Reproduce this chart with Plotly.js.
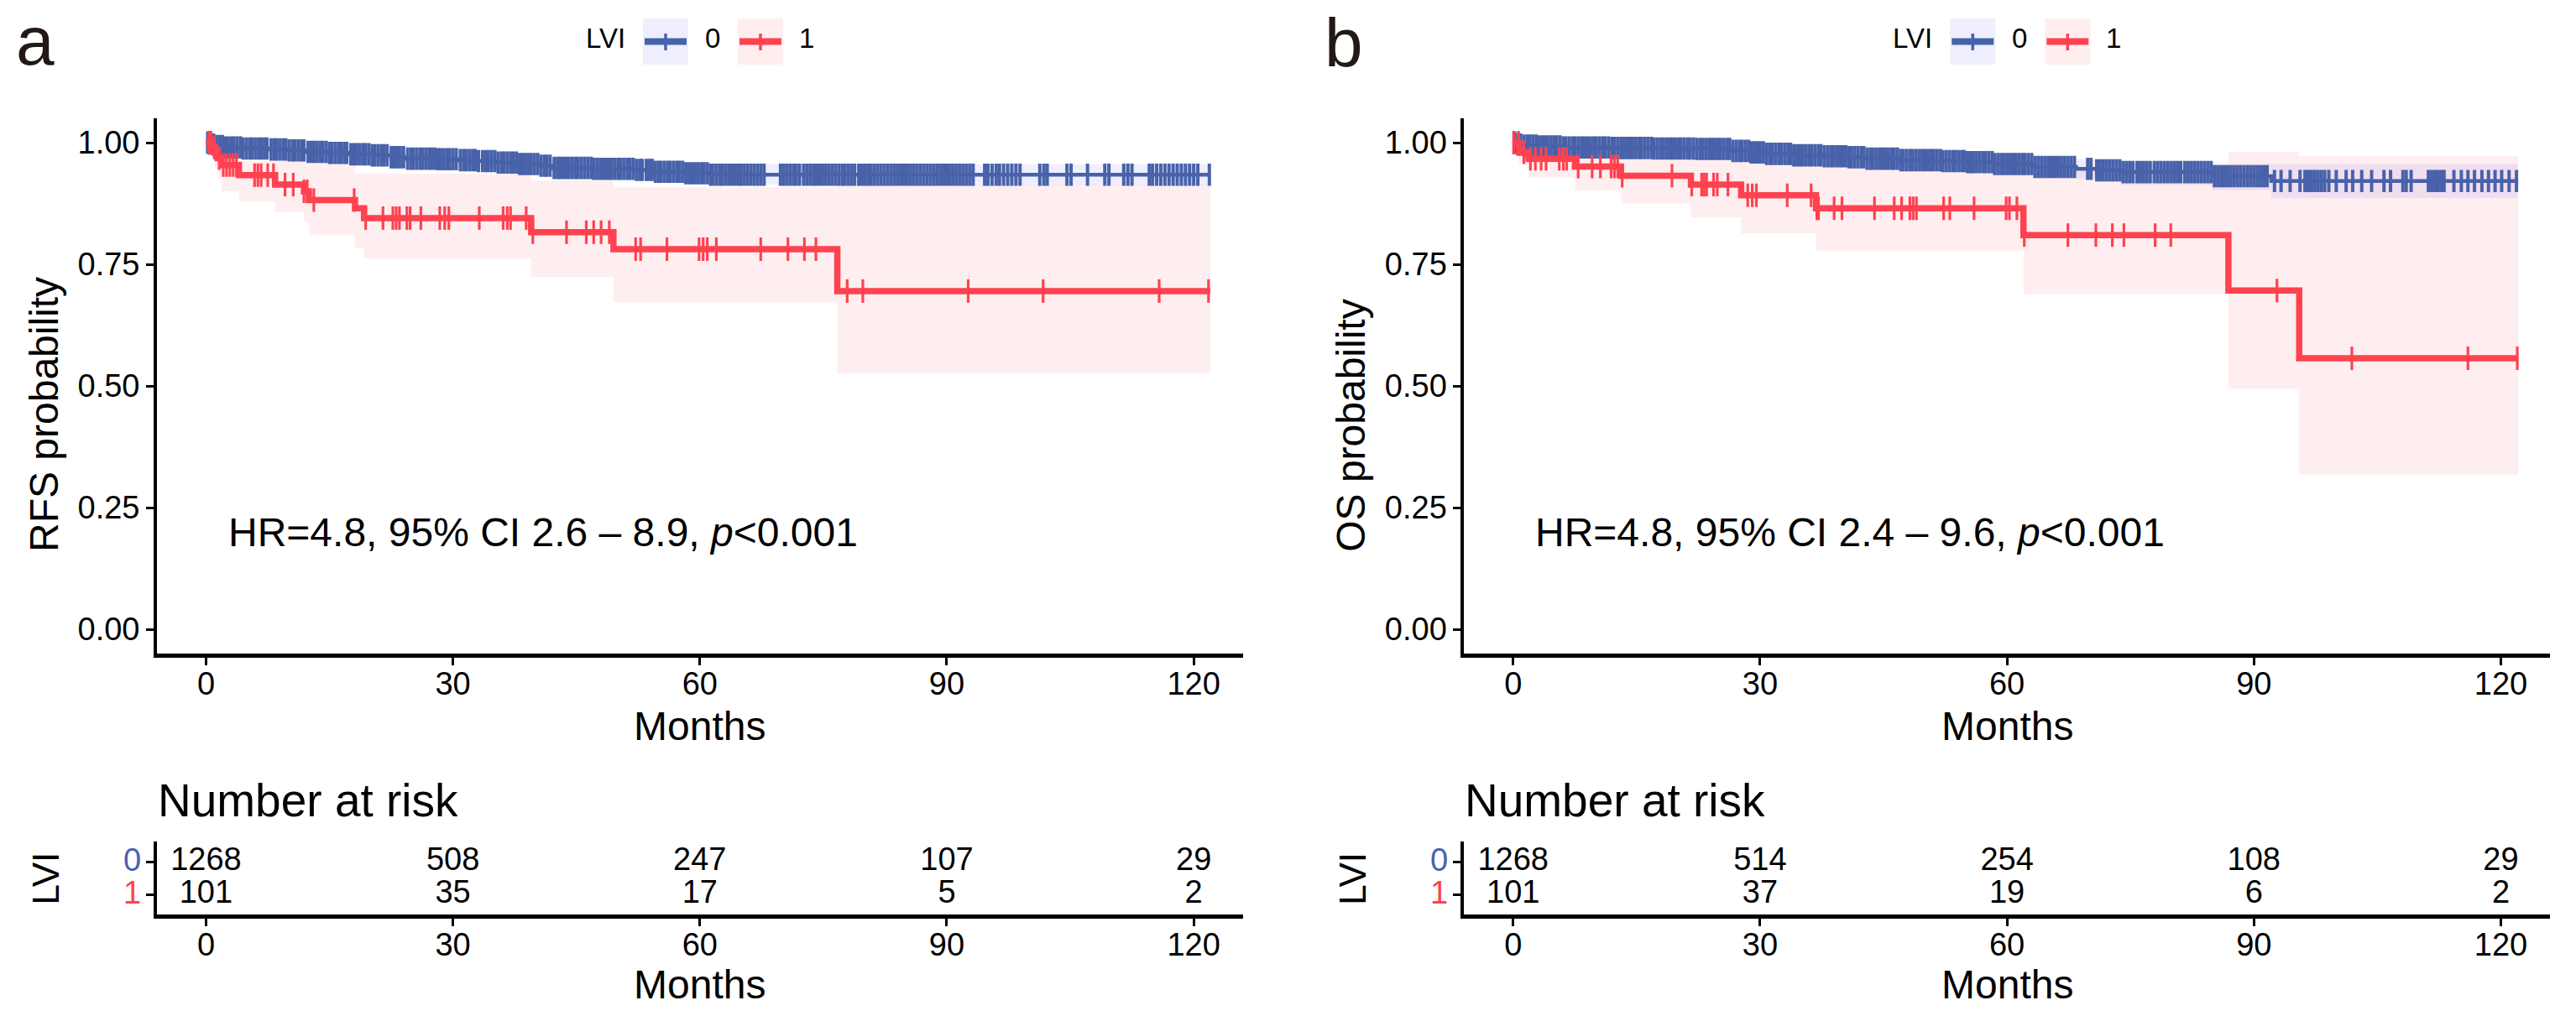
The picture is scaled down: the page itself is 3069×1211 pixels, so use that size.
<!DOCTYPE html>
<html><head><meta charset="utf-8">
<script src="https://cdn.plot.ly/plotly-3.0.1.min.js"></script>
<style>html,body{margin:0;padding:0;background:#fff;}#chart{width:3069px;height:1211px;}</style>
</head><body><div id="chart"></div>
<script>
// ---------------- DATA ----------------
const tickMonths = [0, 30, 60, 90, 120];
const probTicks = [0, 0.25, 0.5, 0.75, 1];
const probTickText = ['0.00', '0.25', '0.50', '0.75', '1.00'];
const groups = ['0', '1'];

// Panel a (RFS)
const redA_t  = [0, 0.8, 1.1, 1.4, 1.9, 4.0, 8.4, 11.9, 12.5, 18.1, 19.2, 39.5, 49.5, 76.7];
const redA_s  = [1.0, 0.99, 0.98, 0.968, 0.954, 0.933, 0.914, 0.90, 0.882, 0.865, 0.845, 0.816, 0.781, 0.695];
const redA_lo = [1.0, 0.965, 0.945, 0.925, 0.90, 0.879, 0.857, 0.835, 0.81, 0.784, 0.761, 0.724, 0.672, 0.525];
const redA_hi = [1.0, 1.0, 1.0, 0.995, 0.985, 0.962, 0.962, 0.962, 0.962, 0.936, 0.936, 0.922, 0.908, 0.914];
const redA_end = 122.0;
const redA_cens = [0.3, 0.6, 1.0, 1.6, 2.1, 2.5, 2.9, 3.3, 3.7, 5.9, 6.3, 6.7, 7.5, 8.2, 9.6, 10.6, 11.9, 12.3, 13.1, 18.0, 19.4, 21.5, 22.7, 23.1, 23.5, 24.4, 24.8, 26.1, 28.4, 29.0, 29.5, 33.2, 36.1, 36.6, 37.0, 38.9, 39.7, 43.8, 46.2, 47.1, 48.0, 49.0, 52.2, 52.8, 56.0, 59.9, 60.4, 60.9, 62.0, 67.4, 70.7, 72.7, 74.1, 77.9, 79.8, 92.6, 101.7, 115.8, 121.8];

const blueA_t  = [0, 0.3, 0.7, 1.2, 2.1, 4.5, 7.5, 10.0, 12.3, 15.0, 17.3, 20.0, 22.5, 24.4, 28.0, 30.8, 33.0, 35.2, 38.0, 40.6, 42.2, 47.0, 52.2, 54.3, 58.0, 61.0];
const blueA_s  = [1.0, 0.998, 0.996, 0.993, 0.990, 0.988, 0.986, 0.984, 0.981, 0.979, 0.976, 0.974, 0.970, 0.967, 0.966, 0.964, 0.962, 0.959, 0.956, 0.9525, 0.948, 0.946, 0.944, 0.940, 0.937, 0.934];
const blueA_lo = [1.0, 0.995, 0.992, 0.988, 0.984, 0.981, 0.978, 0.976, 0.972, 0.970, 0.966, 0.963, 0.959, 0.956, 0.954, 0.952, 0.949, 0.946, 0.942, 0.938, 0.933, 0.930, 0.927, 0.923, 0.919, 0.913];
const blueA_hi = [1.0, 1.0, 0.999, 0.997, 0.995, 0.994, 0.993, 0.991, 0.989, 0.988, 0.985, 0.984, 0.981, 0.979, 0.978, 0.976, 0.975, 0.972, 0.970, 0.967, 0.963, 0.962, 0.961, 0.958, 0.956, 0.955];
const blueA_end = 122.0;
const blueA_cens = [0.2,0.5,0.9,1.2,1.6,2.0,2.3,2.7,3.1,3.4,3.8,4.2,4.5,4.9,5.3,5.6,6.0,6.4,6.7,7.1,7.4,7.9,8.3,8.6,9.0,9.4,9.7,10.1,10.5,10.8,11.2,11.6,11.9,12.4,12.8,13.1,13.5,13.9,14.2,14.6,15.0,15.3,15.7,16.1,16.4,16.8,17.1,17.6,18.0,18.3,18.7,19.1,19.4,19.8,20.2,20.5,20.9,21.3,21.6,22.0,22.5,22.9,23.2,23.6,24.0,24.5,24.9,25.2,25.6,26.0,26.3,26.7,27.1,27.4,27.8,28.2,28.5,28.9,29.3,29.6,30.0,30.4,30.9,31.3,31.6,32.0,32.4,32.7,33.1,33.6,34.0,34.3,34.7,35.1,35.5,35.9,36.2,36.6,37.0,37.3,37.7,38.1,38.4,38.8,39.2,39.5,39.9,40.3,40.7,41.1,41.4,41.8,42.3,42.7,43.0,43.4,43.8,44.1,44.5,44.9,45.2,45.6,46.0,46.4,46.8,47.1,47.5,47.9,48.2,48.6,49.0,49.3,49.7,50.1,50.4,50.8,51.2,51.5,51.9,52.3,52.7,53.0,53.5,53.9,54.2,54.6,55.0,55.3,55.7,56.1,56.4,56.8,57.2,57.5,57.9,58.3,58.7,59.1,59.4,59.8,60.2,60.5,60.9,61.3,61.6,62.0,62.4,62.7,63.1,63.5,63.9,64.3,64.7,65.0,65.4,65.8,66.2,66.6,67.0,67.4,67.8,69.8,70.2,70.6,71.0,71.4,71.7,72.1,72.6,73.0,73.4,73.8,74.1,74.5,74.9,75.3,75.7,76.1,76.5,76.9,77.3,77.6,78.0,78.4,78.8,79.3,79.7,80.1,80.5,80.8,81.2,81.6,82.0,82.4,82.8,83.2,83.6,84.0,84.4,84.8,85.2,85.6,86.0,86.4,86.8,87.2,87.6,88.0,88.4,88.8,89.2,89.6,90.0,90.4,90.8,91.2,91.6,92.0,92.4,92.8,93.2,94.6,95.0,95.5,96.0,96.4,96.9,97.4,97.9,98.4,98.9,101.3,101.8,102.2,104.6,105.1,107.1,109.2,109.7,111.5,112.0,112.5,114.6,115.0,115.5,116.0,116.5,117.0,117.5,118.0,118.5,119.0,119.5,120.0,120.5,121.9];

// Panel b (OS)
const redB_t  = [0, 0.7, 1.9, 7.5, 13.1, 21.6, 27.7, 36.8, 62.0, 86.9, 95.5];
const redB_s  = [1.0, 0.980, 0.967, 0.951, 0.932, 0.914, 0.892, 0.865, 0.810, 0.696, 0.557];
const redB_lo = [1.0, 0.955, 0.928, 0.902, 0.875, 0.846, 0.814, 0.778, 0.689, 0.494, 0.318];
const redB_hi = [1.0, 1.0, 0.995, 0.99, 0.985, 0.975, 0.965, 0.952, 0.945, 0.981, 0.972];
const redB_end = 122.1;
const redB_cens = [0.05, 0.65, 1.3, 2.1, 2.7, 3.4, 4.0, 5.6, 6.1, 6.5, 7.9, 9.6, 10.6, 11.9, 12.3, 12.7, 13.25, 19.3, 21.7, 22.9, 23.2, 23.5, 24.35, 24.8, 26.1, 28.5, 29.05, 29.55, 33.3, 36.2, 36.9, 37.1, 39.0, 39.95, 43.9, 46.3, 47.2, 48.2, 48.6, 49.0, 52.3, 53.05, 56.0, 59.9, 60.3, 61.2, 62.1, 67.4, 70.8, 72.8, 74.2, 78.0, 79.9, 92.8, 101.9, 116.0, 122.0];

const blueB_t  = [0, 0.3, 0.6, 1.0, 3.0, 5.9, 12.0, 17.1, 22.3, 26.6, 28.7, 30.8, 34.1, 37.5, 40.8, 42.9, 47.0, 52.0, 55.0, 58.3, 63.2, 68.4, 70.9, 73.8, 85.0, 92.1];
const blueB_s  = [1.0, 0.998, 0.996, 0.994, 0.992, 0.990, 0.989, 0.988, 0.987, 0.983, 0.980, 0.977, 0.974, 0.972, 0.970, 0.967, 0.964, 0.962, 0.960, 0.956, 0.950, 0.946, 0.943, 0.9395, 0.931, 0.921];
const blueB_lo = [1.0, 0.995, 0.992, 0.989, 0.986, 0.984, 0.982, 0.980, 0.978, 0.974, 0.970, 0.966, 0.963, 0.960, 0.957, 0.954, 0.950, 0.947, 0.944, 0.939, 0.932, 0.925, 0.919, 0.9125, 0.902, 0.886];
const blueB_hi = [1.0, 1.0, 0.999, 0.998, 0.997, 0.996, 0.995, 0.995, 0.994, 0.991, 0.989, 0.987, 0.985, 0.983, 0.982, 0.980, 0.978, 0.976, 0.975, 0.972, 0.967, 0.966, 0.9615, 0.957, 0.957, 0.957];
const blueB_end = 122.0;
const blueB_cens = [0.2,0.6,0.9,1.3,1.7,2.0,2.4,2.8,3.1,3.5,3.9,4.2,4.6,5.0,5.3,5.7,6.1,6.4,6.8,7.2,7.5,7.9,8.3,8.6,9.0,9.4,9.8,10.1,10.5,10.9,11.2,11.6,12.0,12.3,12.7,13.1,13.4,13.8,14.2,14.5,14.9,15.3,15.6,16.0,16.4,16.8,17.1,17.5,17.9,18.2,18.6,19.0,19.3,19.7,20.1,20.4,20.8,21.2,21.5,21.9,22.3,22.7,23.0,23.4,23.8,24.1,24.5,24.9,25.2,25.6,26.0,26.3,26.7,27.1,27.5,27.8,28.2,28.6,28.9,29.3,29.7,30.0,30.4,30.8,31.2,31.5,31.9,32.3,32.6,33.0,33.4,33.7,34.1,34.5,34.9,35.2,35.6,36.0,36.3,36.7,37.1,37.4,37.8,38.2,38.6,38.9,39.3,39.7,40.0,40.4,40.8,41.1,41.5,41.9,42.3,42.6,43.0,43.4,43.7,44.1,44.5,44.8,45.2,45.6,46.0,46.3,46.7,47.1,47.4,47.8,48.2,48.5,48.9,49.3,49.7,50.0,50.4,50.8,51.1,51.5,51.9,52.2,52.6,53.0,53.4,53.7,54.1,54.5,54.8,55.2,55.6,55.9,56.3,56.7,57.1,57.4,57.8,58.2,58.5,58.9,59.3,59.6,60.0,60.4,60.8,61.1,61.5,61.9,62.2,62.6,63.0,63.4,63.8,64.2,64.6,65.0,65.4,65.8,66.2,66.6,67.0,67.4,67.8,68.2,69.8,70.2,70.9,71.3,71.7,72.1,72.5,72.9,73.3,73.7,74.1,74.5,74.9,75.3,75.8,76.2,76.6,77.0,77.4,77.9,78.3,78.7,79.1,79.5,79.9,80.3,80.7,81.1,81.6,82.0,82.4,82.8,83.2,83.6,84.0,84.4,84.8,85.2,85.6,86.0,86.4,86.8,87.2,87.6,88.0,88.4,88.8,89.2,89.6,90.0,90.4,90.8,91.2,91.6,92.5,93.3,94.4,95.6,96.2,96.6,97.0,97.4,97.8,98.2,98.6,99.1,100.0,101.2,102.0,103.1,104.3,105.8,106.6,108.1,108.5,109.1,111.2,111.6,112.0,112.4,112.8,113.1,114.3,115.2,116.0,116.8,117.7,118.5,119.3,120.1,121.0,121.9];

// Number at risk
const riskTimes = [0, 30, 60, 90, 120];
const riskA0 = [1268, 508, 247, 107, 29];
const riskA1 = [101, 35, 17, 5, 2];
const riskB0 = [1268, 514, 254, 108, 29];
const riskB1 = [101, 37, 19, 6, 2];

const hrTextA = 'HR=4.8, 95% CI 2.6 \u2013 8.9, <i>p</i>&lt;0.001';
const hrTextB = 'HR=4.8, 95% CI 2.4 \u2013 9.6, <i>p</i>&lt;0.001';

// ---------------- STYLE / LAYOUT ----------------
const W = 3069, H = 1211;
const FONT = '"Liberation Sans", Arial, Helvetica, sans-serif';
const BLUE = '#4862AA', RED = '#FF4250';
const BLUE_FILL = 'rgba(95,95,255,0.105)', RED_FILL = 'rgba(255,66,80,0.09)';
const px = x => x / W;
const py = y => 1 - y / H;
const OFF = 1557.3; // horizontal offset of panel b

function stepLine(t, s, end) {
  return { x: t.concat([end]), y: s.concat([s[s.length - 1]]) };
}
function ribbon(t, lo, hi, end) {
  const x = [], y = [];
  for (let i = 0; i < t.length; i++) { const tn = i < t.length - 1 ? t[i + 1] : end; x.push(t[i], tn); y.push(hi[i], hi[i]); }
  for (let i = t.length - 1; i >= 0; i--) { const tn = i < t.length - 1 ? t[i + 1] : end; x.push(tn, t[i]); y.push(lo[i], lo[i]); }
  return { x, y };
}
function survAt(t, s, time) { let v = s[0]; for (let i = 0; i < t.length; i++) if (t[i] <= time) v = s[i]; return v; }

function panelTraces(xa, ya, red, blue) {
  const tr = [];
  const bR = ribbon(blue.t, blue.lo, blue.hi, blue.end);
  tr.push({ type: 'scatter', mode: 'lines', x: bR.x, y: bR.y, fill: 'toself', fillcolor: BLUE_FILL, line: { width: 0 }, xaxis: xa, yaxis: ya, hoverinfo: 'skip', showlegend: false });
  const rR = ribbon(red.t, red.lo, red.hi, red.end);
  tr.push({ type: 'scatter', mode: 'lines', x: rR.x, y: rR.y, fill: 'toself', fillcolor: RED_FILL, line: { width: 0 }, xaxis: xa, yaxis: ya, hoverinfo: 'skip', showlegend: false });
  const bL = stepLine(blue.t, blue.s, blue.end);
  tr.push({ type: 'scatter', mode: 'lines', x: bL.x, y: bL.y, line: { shape: 'hv', color: BLUE, width: 4.5 }, xaxis: xa, yaxis: ya, showlegend: false });
  tr.push({ type: 'scatter', mode: 'markers', x: blue.cens, y: blue.cens.map(c => survAt(blue.t, blue.s, c)), marker: { symbol: 'line-ns', size: 19, color: BLUE, line: { color: BLUE, width: 4 } }, xaxis: xa, yaxis: ya, showlegend: false });
  const rL = stepLine(red.t, red.s, red.end);
  tr.push({ type: 'scatter', mode: 'lines', x: rL.x, y: rL.y, line: { shape: 'hv', color: RED, width: 7.5 }, xaxis: xa, yaxis: ya, showlegend: false });
  tr.push({ type: 'scatter', mode: 'markers', x: red.cens, y: red.cens.map(c => survAt(red.t, red.s, c)), marker: { symbol: 'line-ns', size: 20, color: RED, line: { color: RED, width: 3.2 } }, xaxis: xa, yaxis: ya, showlegend: false });
  return tr;
}
function riskTraces(xa, ya, r0, r1) {
  const f = { family: FONT, size: 38, color: '#000' };
  return [
    { type: 'scatter', mode: 'text', x: riskTimes, y: riskTimes.map(() => 2), text: r0.map(String), textposition: 'middle center', textfont: f, cliponaxis: false, xaxis: xa, yaxis: ya, showlegend: false, hoverinfo: 'skip' },
    { type: 'scatter', mode: 'text', x: riskTimes, y: riskTimes.map(() => 1), text: r1.map(String), textposition: 'middle center', textfont: f, cliponaxis: false, xaxis: xa, yaxis: ya, showlegend: false, hoverinfo: 'skip' }
  ];
}

const data = [].concat(
  panelTraces('x', 'y', { t: redA_t, s: redA_s, lo: redA_lo, hi: redA_hi, end: redA_end, cens: redA_cens },
                        { t: blueA_t, s: blueA_s, lo: blueA_lo, hi: blueA_hi, end: blueA_end, cens: blueA_cens }),
  panelTraces('x2', 'y2', { t: redB_t, s: redB_s, lo: redB_lo, hi: redB_hi, end: redB_end, cens: redB_cens },
                          { t: blueB_t, s: blueB_s, lo: blueB_lo, hi: blueB_hi, end: blueB_end, cens: blueB_cens }),
  riskTraces('x3', 'y3', riskA0, riskA1),
  riskTraces('x4', 'y4', riskB0, riskB1)
);

const tickFont = { family: FONT, size: 38, color: '#000' };
function xAxis(domL, domR, anchor) {
  return { domain: [px(domL), px(domR)], anchor: anchor, range: [-6, 126], tickvals: tickMonths, ticktext: tickMonths.map(String),
    ticks: 'outside', ticklen: 9, tickwidth: 3, tickcolor: '#000', showline: true, linewidth: 4.5, linecolor: '#000',
    ticklabelstandoff: -10,
    showgrid: false, zeroline: false, tickfont: tickFont, fixedrange: true };
}
function yMain(anchor) {
  return { domain: [py(779), py(141)], anchor: anchor, range: [-0.05, 1.05], tickvals: probTicks, ticktext: probTickText,
    ticks: 'outside', ticklen: 9, tickwidth: 3, tickcolor: '#000', showline: true, linewidth: 3.5, linecolor: '#000',
    showgrid: false, zeroline: false, tickfont: tickFont, fixedrange: true };
}
function yRisk(anchor) {
  return { domain: [py(1090), py(1003)], anchor: anchor, range: [0.41, 2.64], tickvals: [1, 2], showticklabels: false,
    ticks: 'outside', ticklen: 9, tickwidth: 3, tickcolor: '#000', showline: true, linewidth: 3.5, linecolor: '#000',
    showgrid: false, zeroline: false, fixedrange: true };
}

const ann = [];
const shapes = [];
function txt(text, x, y, size, opts) {
  ann.push(Object.assign({ text: text, x: px(x), y: py(y), xref: 'paper', yref: 'paper', showarrow: false,
    xanchor: 'center', yanchor: 'middle', font: { family: FONT, size: size, color: '#000' } }, opts || {}));
}
[0, OFF].forEach((o, k) => {
  // legend
  txt('LVI', 721.5 + o, 45, 33);
  txt(groups[0], 849 + o, 45, 33);
  txt(groups[1], 961 + o, 45, 33);
  [[766, BLUE, '#EEEEFD'], [879, RED, '#FFEEEE']].forEach(([x0, c, bg]) => {
    shapes.push({ type: 'rect', xref: 'paper', yref: 'paper', x0: px(x0 + o), x1: px(x0 + 54 + o), y0: py(77), y1: py(22), fillcolor: bg, line: { width: 0 } });
    shapes.push({ type: 'line', xref: 'paper', yref: 'paper', x0: px(x0 + 2 + o), x1: px(x0 + 52 + o), y0: py(49.5), y1: py(49.5), line: { color: c, width: 8 } });
    shapes.push({ type: 'line', xref: 'paper', yref: 'paper', x0: px(x0 + 27 + o), x1: px(x0 + 27 + o), y0: py(40), y1: py(60), line: { color: c, width: 3.5 } });
  });
  // y axis title
  txt(k === 0 ? 'RFS probability' : 'OS probability', 52 + o, 660, 48, { textangle: -90, yanchor: 'bottom' });
  // x axis titles
  txt('Months', 833.8 + o, 865, 48);
  txt('Months', 833.8 + o, 1173, 48);
  // risk table
  txt('Number at risk', 186 + o, 954, 55, { xanchor: 'left' });
  txt('LVI', 54 + o, 1047.5, 44, { textangle: -90 });
  txt(groups[0], 157 + o, 1025, 38, { font: { family: FONT, size: 38, color: BLUE } });
  txt(groups[1], 157 + o, 1064, 38, { font: { family: FONT, size: 38, color: RED } });
});
// panel letters
txt('a', 42, 48, 82, { font: { family: FONT, size: 82, color: '#231815' } });
txt('b', 1601, 51, 82, { font: { family: FONT, size: 82, color: '#231815' } });
// HR annotations
ann.push({ text: hrTextA, x: 2.5, y: 0.2, xref: 'x', yref: 'y', xanchor: 'left', yanchor: 'middle', showarrow: false, font: { family: FONT, size: 48, color: '#000' } });
ann.push({ text: hrTextB, x: 2.5, y: 0.2, xref: 'x2', yref: 'y2', xanchor: 'left', yanchor: 'middle', showarrow: false, font: { family: FONT, size: 48, color: '#000' } });

const layout = {
  width: W, height: H, margin: { l: 0, r: 0, t: 0, b: 0 }, paper_bgcolor: '#fff', plot_bgcolor: '#fff', showlegend: false,
  xaxis: xAxis(186.6, 1481, 'y'), yaxis: yMain('x'),
  xaxis2: xAxis(186.6 + OFF, 1481 + OFF, 'y2'), yaxis2: yMain('x2'),
  xaxis3: xAxis(186.6, 1481, 'y3'), yaxis3: yRisk('x3'),
  xaxis4: xAxis(186.6 + OFF, 1481 + OFF, 'y4'), yaxis4: yRisk('x4'),
  annotations: ann, shapes: shapes
};
Plotly.newPlot('chart', data, layout, { displayModeBar: false, staticPlot: true });
</script></body></html>
